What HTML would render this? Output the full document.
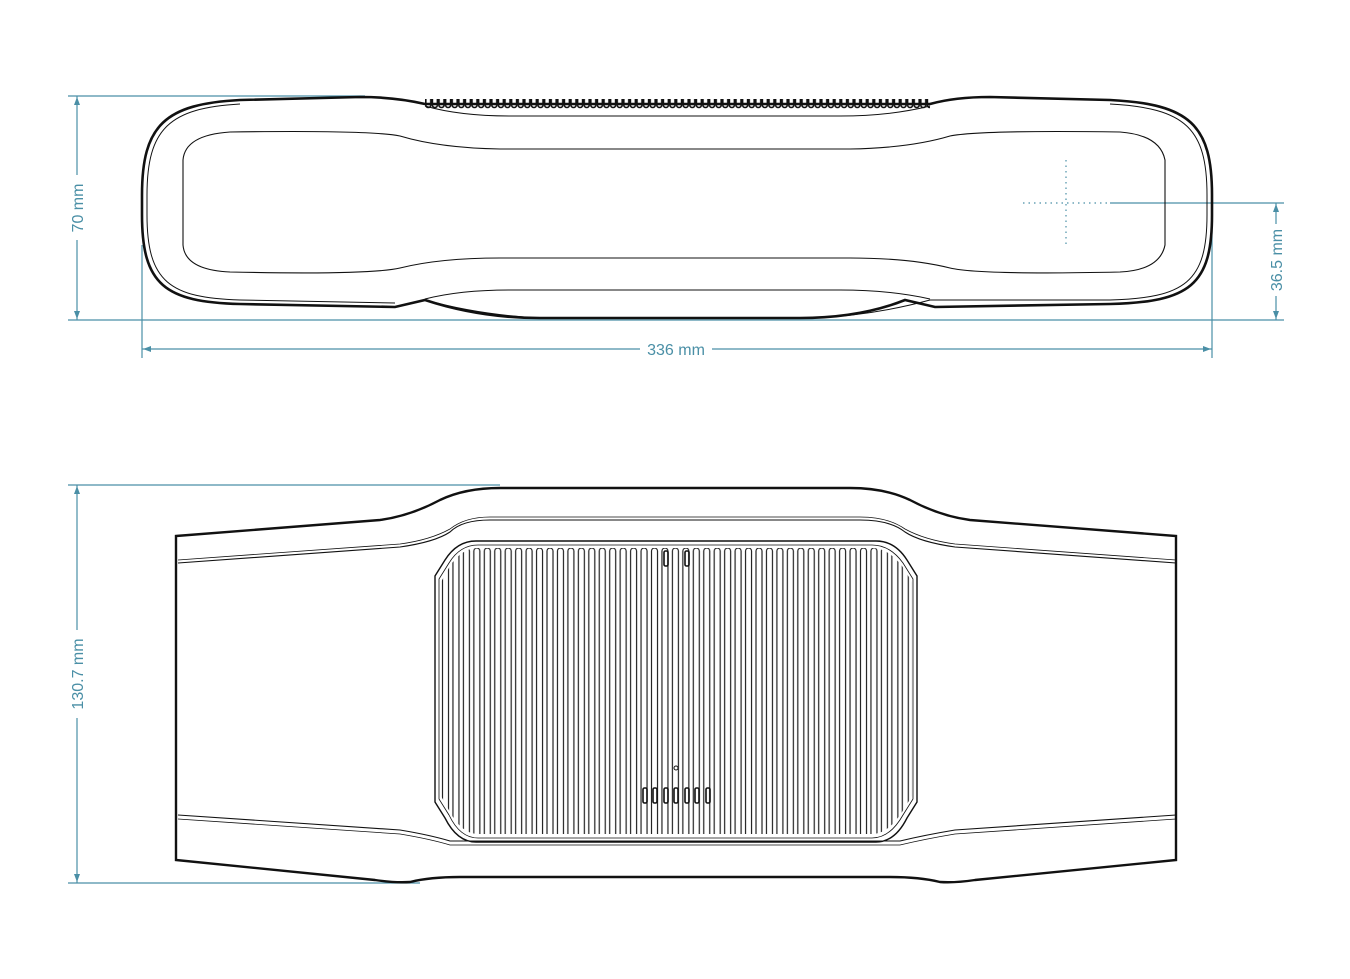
<!DOCTYPE html>
<html><head><style>
html,body{margin:0;padding:0;background:#fff;width:1350px;height:979px;overflow:hidden}
svg{display:block}
text{font-family:"Liberation Sans",sans-serif;font-size:16px;fill:#4a8fa6}
</style></head><body>
<svg width="1350" height="979" viewBox="0 0 1350 979" xmlns="http://www.w3.org/2000/svg">
<defs>
<pattern id="rib" x="425" y="98" width="6.6" height="12" patternUnits="userSpaceOnUse">
<path d="M0.8,1 L0.8,7 A2.5,2.5 0 0 0 5.8,7 L5.8,1" fill="none" stroke="#111" stroke-width="1.6"/>
</pattern>
<pattern id="slot" x="441" y="0" width="10.45" height="979" patternUnits="userSpaceOnUse">
<rect x="1.5" y="548" width="6" height="290" rx="3" fill="none" stroke="#222" stroke-width="1.2"/>
</pattern>
<clipPath id="gc"><path d="M478,548 L872,548 Q888,548 902,566 L912,582 L912,796 L902,812 Q888,834 872,834 L478,834 Q462,834 450,812 L441,796 L441,582 L450,566 Q462,548 478,548 Z"/></clipPath>
</defs>

<g stroke="#4a8fa6" stroke-width="1.2" fill="#4a8fa6">
<line x1="68" y1="96" x2="365" y2="96"/>
<line x1="68" y1="320" x2="1284" y2="320"/>
<line x1="77" y1="96" x2="77" y2="175"/><line x1="77" y1="240" x2="77" y2="320"/>
<path d="M77,97 l-3,8 h6z M77,319 l-3,-8 h6z" stroke="none"/>
<line x1="142" y1="245" x2="142" y2="358"/>
<line x1="1212" y1="185" x2="1212" y2="358"/>
<line x1="142" y1="349" x2="640" y2="349"/><line x1="712" y1="349" x2="1212" y2="349"/>
<path d="M143,349 l8,-3 v6z M1211,349 l-8,-3 v6z" stroke="none"/>
<line x1="1110" y1="203" x2="1284" y2="203"/>
<line x1="1276" y1="203" x2="1276" y2="224"/><line x1="1276" y1="296" x2="1276" y2="320"/>
<path d="M1276,204 l-3,8 h6z M1276,319 l-3,-8 h6z" stroke="none"/>
<line x1="1023" y1="203" x2="1110" y2="203" stroke-dasharray="1.5,4"/>
<line x1="1066" y1="160" x2="1066" y2="245" stroke-dasharray="1.5,4"/>
<line x1="68" y1="485" x2="500" y2="485"/>
<line x1="68" y1="883" x2="420" y2="883"/>
<line x1="77" y1="485" x2="77" y2="630"/><line x1="77" y1="718" x2="77" y2="883"/>
<path d="M77,486 l-3,8 h6z M77,882 l-3,-8 h6z" stroke="none"/>
</g>
<text x="676" y="355" text-anchor="middle">336 mm</text>
<text transform="translate(83,208) rotate(-90)" text-anchor="middle">70 mm</text>
<text transform="translate(1282,260) rotate(-90)" text-anchor="middle">36.5 mm</text>
<text transform="translate(83,674) rotate(-90)" text-anchor="middle">130.7 mm</text>

<g fill="none" stroke="#111">
<path d="M360,97 Q395,97 425,104 L930,104 Q955,97 990,97 L1110,100 C1190,104 1212,125 1212,195 L1212,215 C1212,285 1190,302 1110,304 L935,307 L905,300 Q860,318 800,318 L540,318 Q480,318 425,300 L395,307 L240,304 C165,302 142,285 142,215 L142,195 C142,125 165,104 240,100 Z" stroke-width="2.6"/>
<path d="M240,104 C170,108 147,128 147,195 L147,215 C147,282 170,298 240,300 L395,303 M930,300 L1110,300 C1185,298 1207,282 1207,215 L1207,195 C1207,128 1185,108 1110,104" stroke-width="1"/>
<path d="M425,106 Q460,116 510,116 L840,116 Q890,116 930,106" stroke-width="1"/>
<path d="M425,299 Q460,290 510,290 L840,290 Q890,290 930,299" stroke-width="1"/>
<path d="M425,300 Q480,315 540,318" stroke-width="1"/>
<path d="M930,300 Q875,315 815,318" stroke-width="1"/>
<path d="M230,132 Q370,130 400,136 Q440,148 500,149 L850,149 Q910,148 950,136 Q980,130 1120,132 Q1160,135 1165,160 L1165,245 Q1160,270 1120,272 Q980,275 950,268 Q910,258 850,258 L500,258 Q440,258 400,268 Q370,275 230,272 Q185,270 183,245 L183,160 Q185,135 230,132 Z" stroke-width="1.1"/>
</g>
<rect x="425" y="98" width="505" height="11" fill="url(#rib)"/>

<g fill="none" stroke="#111">
<path d="M176,536 L380,520 Q410,516 440,500 Q465,488 500,488 L850,488 Q885,488 910,500 Q940,516 970,520 L1176,536 L1176,860 L975,880 Q955,883 940,882 Q920,877 890,877 L460,877 Q430,877 410,882 Q395,883 375,880 L176,860 Z" stroke-width="2.4"/>
<path d="M178,563 L400,547 Q435,542 450,532 Q462,520 490,520 L860,520 Q890,520 905,532 Q920,542 955,547 L1176,563" stroke-width="1.1"/>
<path d="M178,560 L400,544 Q430,540 450,529 Q465,517 490,517 L860,517 Q888,517 905,529 Q925,540 955,544 L1176,560" stroke-width="0.8"/>
<path d="M178,815 L400,830 Q430,835 450,841 L900,841 Q925,835 955,830 L1176,815" stroke-width="1.1"/>
<path d="M178,819 L400,834 Q430,839 450,845 L900,845 Q925,839 955,834 L1176,819" stroke-width="0.8"/>
<path d="M476,541 L876,541 Q895,541 907,560 L917,576 L917,802 L907,818 Q895,842 876,842 L476,842 Q457,842 445,818 L435,802 L435,576 L445,560 Q457,541 476,541 Z" stroke-width="1.4"/>
<path d="M478,545 L872,545 Q890,545 903,563 L913,579 L913,799 L903,815 Q890,838 872,838 L478,838 Q460,838 449,815 L439,799 L439,579 L449,563 Q460,545 478,545 Z" stroke-width="0.8"/>
</g>
<rect x="441" y="548" width="472" height="290" fill="url(#slot)" clip-path="url(#gc)"/>
<g fill="none" stroke="#111" stroke-width="1.6">
<rect x="664" y="551" width="4" height="15" rx="1.5"/><rect x="685" y="551" width="4" height="15" rx="1.5"/>
<rect x="643" y="788" width="4" height="15" rx="1.5"/><rect x="653" y="788" width="4" height="15" rx="1.5"/>
<rect x="664" y="788" width="4" height="15" rx="1.5"/><rect x="674" y="788" width="4" height="15" rx="1.5"/>
<rect x="685" y="788" width="4" height="15" rx="1.5"/><rect x="695" y="788" width="4" height="15" rx="1.5"/>
<rect x="706" y="788" width="4" height="15" rx="1.5"/>
<circle cx="676" cy="768" r="2" stroke-width="1"/>
</g>
</svg>
</body></html>
